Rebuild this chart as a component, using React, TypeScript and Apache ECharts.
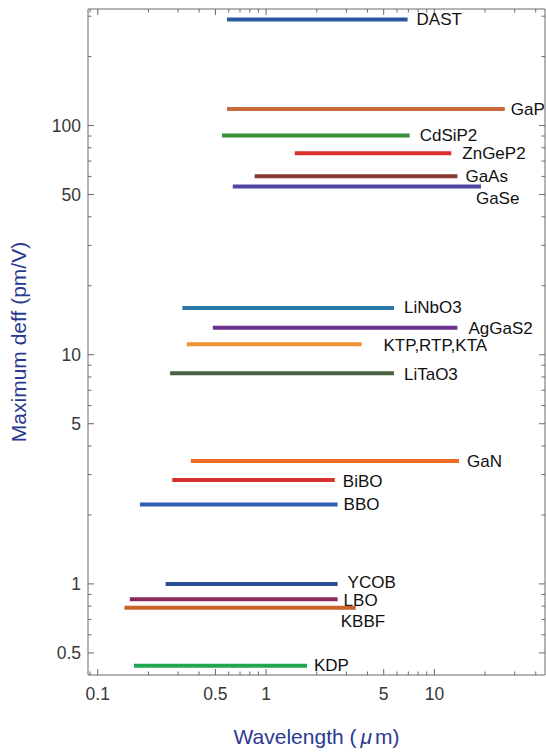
import React, { useEffect, useRef } from "react";
import * as echarts from "echarts";

// ---- data ----
const crystals = ["DAST", "GaP", "CdSiP2", "ZnGeP2", "GaAs", "GaSe", "LiNbO3", "AgGaS2", "KTP,RTP,KTA", "LiTaO3", "GaN", "BiBO", "BBO", "YCOB", "LBO", "KBBF", "KDP"];
const wavelengthStart = [0.586, 0.586, 0.547, 1.48, 0.855, 0.634, 0.318, 0.483, 0.338, 0.269, 0.357, 0.277, 0.178, 0.253, 0.155, 0.144, 0.164];
const wavelengthEnd = [6.93, 26.2, 7.13, 12.6, 13.7, 18.9, 5.75, 13.7, 3.69, 5.75, 14.0, 2.56, 2.66, 2.66, 2.66, 3.41, 1.75];
const maxDeff = [290, 118, 90.4, 75.7, 60.1, 54.2, 16.0, 13.1, 11.1, 8.3, 3.44, 2.84, 2.22, 1.0, 0.857, 0.787, 0.44];

const xMajorTicks = [0.1, 0.5, 1, 5, 10];
const xMinorTicks = [0.09, 0.2, 0.3, 0.4, 0.6, 0.7, 0.8, 0.9, 2, 3, 4, 6, 7, 8, 9, 20, 30, 40];
const yMajorTicks = [0.5, 1, 5, 10, 50, 100];
const yMinorTicks = [0.6, 0.7, 0.8, 0.9, 2, 3, 4, 6, 7, 8, 9, 20, 30, 40, 60, 70, 80, 90, 200, 300];

// ---- styles ----
const colors = ["#2a56a0", "#c86a3a", "#3a8f3a", "#d83030", "#8a3a30", "#5048a0", "#2a78a8", "#6a3090", "#f09030", "#4a6040", "#f06a28", "#d83030", "#2f5fb0", "#2a4f90", "#8a2a5a", "#c8642a", "#20a850"];
const labelOffsets = [[9, 0], [6, 0], [10, 0], [11, 0], [8, 0], [-5, 12], [10, 0], [11, 1], [22, 1], [10, 1], [8, 1], [8, 1], [6, 0], [10, -1], [6, 1.5], [-15, 14], [7, 0]];

const X_MIN = 0.0875;
const X_MAX = 45.4;
const Y_MIN = 0.4005;
const Y_MAX = 322.5;

const FONT = "'Liberation Sans', Arial, sans-serif";
const FRAME = "#6a6a6a";
const TITLE_COLOR = "#2b3990";

export default function App() {
  const ref = useRef<HTMLDivElement>(null);
  useEffect(() => {
    if (!ref.current) return;
    const chart = echarts.init(ref.current, null, { renderer: "svg" });

    const segData = crystals.map((_, i) => [wavelengthStart[i], wavelengthEnd[i], maxDeff[i], i]);
    const xTickData = [
      ...xMajorTicks.map((v) => [v, Y_MIN, 1]),
      ...xMinorTicks.map((v) => [v, Y_MIN, 0]),
    ];
    const yTickData = [
      ...yMajorTicks.map((v) => [X_MIN, v, 1]),
      ...yMinorTicks.map((v) => [X_MIN, v, 0]),
    ];

    const option: any = {
      animation: false,
      backgroundColor: "#ffffff",
      grid: { left: 78, right: 1, top: 9, bottom: 63, show: true, borderColor: FRAME, borderWidth: 1, backgroundColor: "transparent" },
      xAxis: {
        type: "log",
        logBase: 10,
        min: X_MIN,
        max: X_MAX,
        axisLine: { show: false },
        axisTick: { show: false },
        axisLabel: { show: false },
        splitLine: { show: false },
        name: "Wavelength ({mu|μ}m)",
        nameLocation: "middle",
        nameGap: 51,
        nameTextStyle: {
          color: TITLE_COLOR,
          fontSize: 21,
          fontFamily: FONT,
          rich: { mu: { color: TITLE_COLOR, fontSize: 21, fontFamily: FONT, fontStyle: "italic", padding: [0, 3, 0, 4] } },
        },
      },
      yAxis: {
        type: "log",
        logBase: 10,
        min: Y_MIN,
        max: Y_MAX,
        axisLine: { show: false },
        axisTick: { show: false },
        axisLabel: { show: false },
        splitLine: { show: false },
        name: "Maximum deff (pm/V)",
        nameLocation: "middle",
        nameGap: 59,
        nameTextStyle: { color: TITLE_COLOR, fontSize: 21, fontFamily: FONT },
      },
      series: [
        {
          type: "custom",
          encode: { x: 0, y: 1 },
          data: xTickData,
          silent: true,
          z: 5,
          renderItem: (params: any, api: any) => {
            const cs = params.coordSys;
            const major = api.value(2) === 1;
            const px = api.coord([api.value(0), Y_MIN])[0];
            const len = major ? 6 : 3.5;
            const bottom = cs.y + cs.height;
            const children: any[] = [
              { type: "line", shape: { x1: px, y1: bottom, x2: px, y2: bottom - len }, style: { stroke: FRAME, lineWidth: 1 } },
              { type: "line", shape: { x1: px, y1: cs.y, x2: px, y2: cs.y + len }, style: { stroke: FRAME, lineWidth: 1 } },
            ];
            if (major) {
              children.push({
                type: "text",
                x: px,
                y: bottom + 19,
                style: { text: String(api.value(0)), fill: "#383838", fontSize: 17.5, fontFamily: FONT, align: "center", verticalAlign: "middle" },
              });
            }
            return { type: "group", children };
          },
        },
        {
          type: "custom",
          encode: { x: 0, y: 1 },
          data: yTickData,
          silent: true,
          z: 5,
          renderItem: (params: any, api: any) => {
            const cs = params.coordSys;
            const major = api.value(2) === 1;
            const py = api.coord([X_MIN, api.value(1)])[1];
            const len = major ? 6 : 3.5;
            const right = cs.x + cs.width;
            const children: any[] = [
              { type: "line", shape: { x1: cs.x, y1: py, x2: cs.x + len, y2: py }, style: { stroke: FRAME, lineWidth: 1 } },
              { type: "line", shape: { x1: right, y1: py, x2: right - len, y2: py }, style: { stroke: FRAME, lineWidth: 1 } },
            ];
            if (major) {
              children.push({
                type: "text",
                x: cs.x - 7,
                y: py,
                style: { text: String(api.value(1)), fill: "#383838", fontSize: 17.5, fontFamily: FONT, align: "right", verticalAlign: "middle" },
              });
            }
            return { type: "group", children };
          },
        },
        {
          type: "custom",
          encode: { x: [0, 1], y: 2 },
          data: segData,
          silent: true,
          z: 10,
          renderItem: (params: any, api: any) => {
            const i = api.value(3);
            const a = api.coord([api.value(0), api.value(2)]);
            const b = api.coord([api.value(1), api.value(2)]);
            const off = labelOffsets[i];
            return {
              type: "group",
              children: [
                { type: "line", shape: { x1: a[0], y1: a[1], x2: b[0], y2: b[1] }, style: { stroke: colors[i], lineWidth: 4 } },
                {
                  type: "text",
                  x: b[0] + off[0],
                  y: b[1] + off[1],
                  style: { text: crystals[i], fill: "#111111", fontSize: 17, fontFamily: FONT, align: "left", verticalAlign: "middle" },
                },
              ],
            };
          },
        },
      ],
    };
    chart.setOption(option);
    return () => chart.dispose();
  }, []);
  return <div ref={ref} style={{ position: "fixed", left: 0, top: 0, width: 546, height: 752 }} />;
}
